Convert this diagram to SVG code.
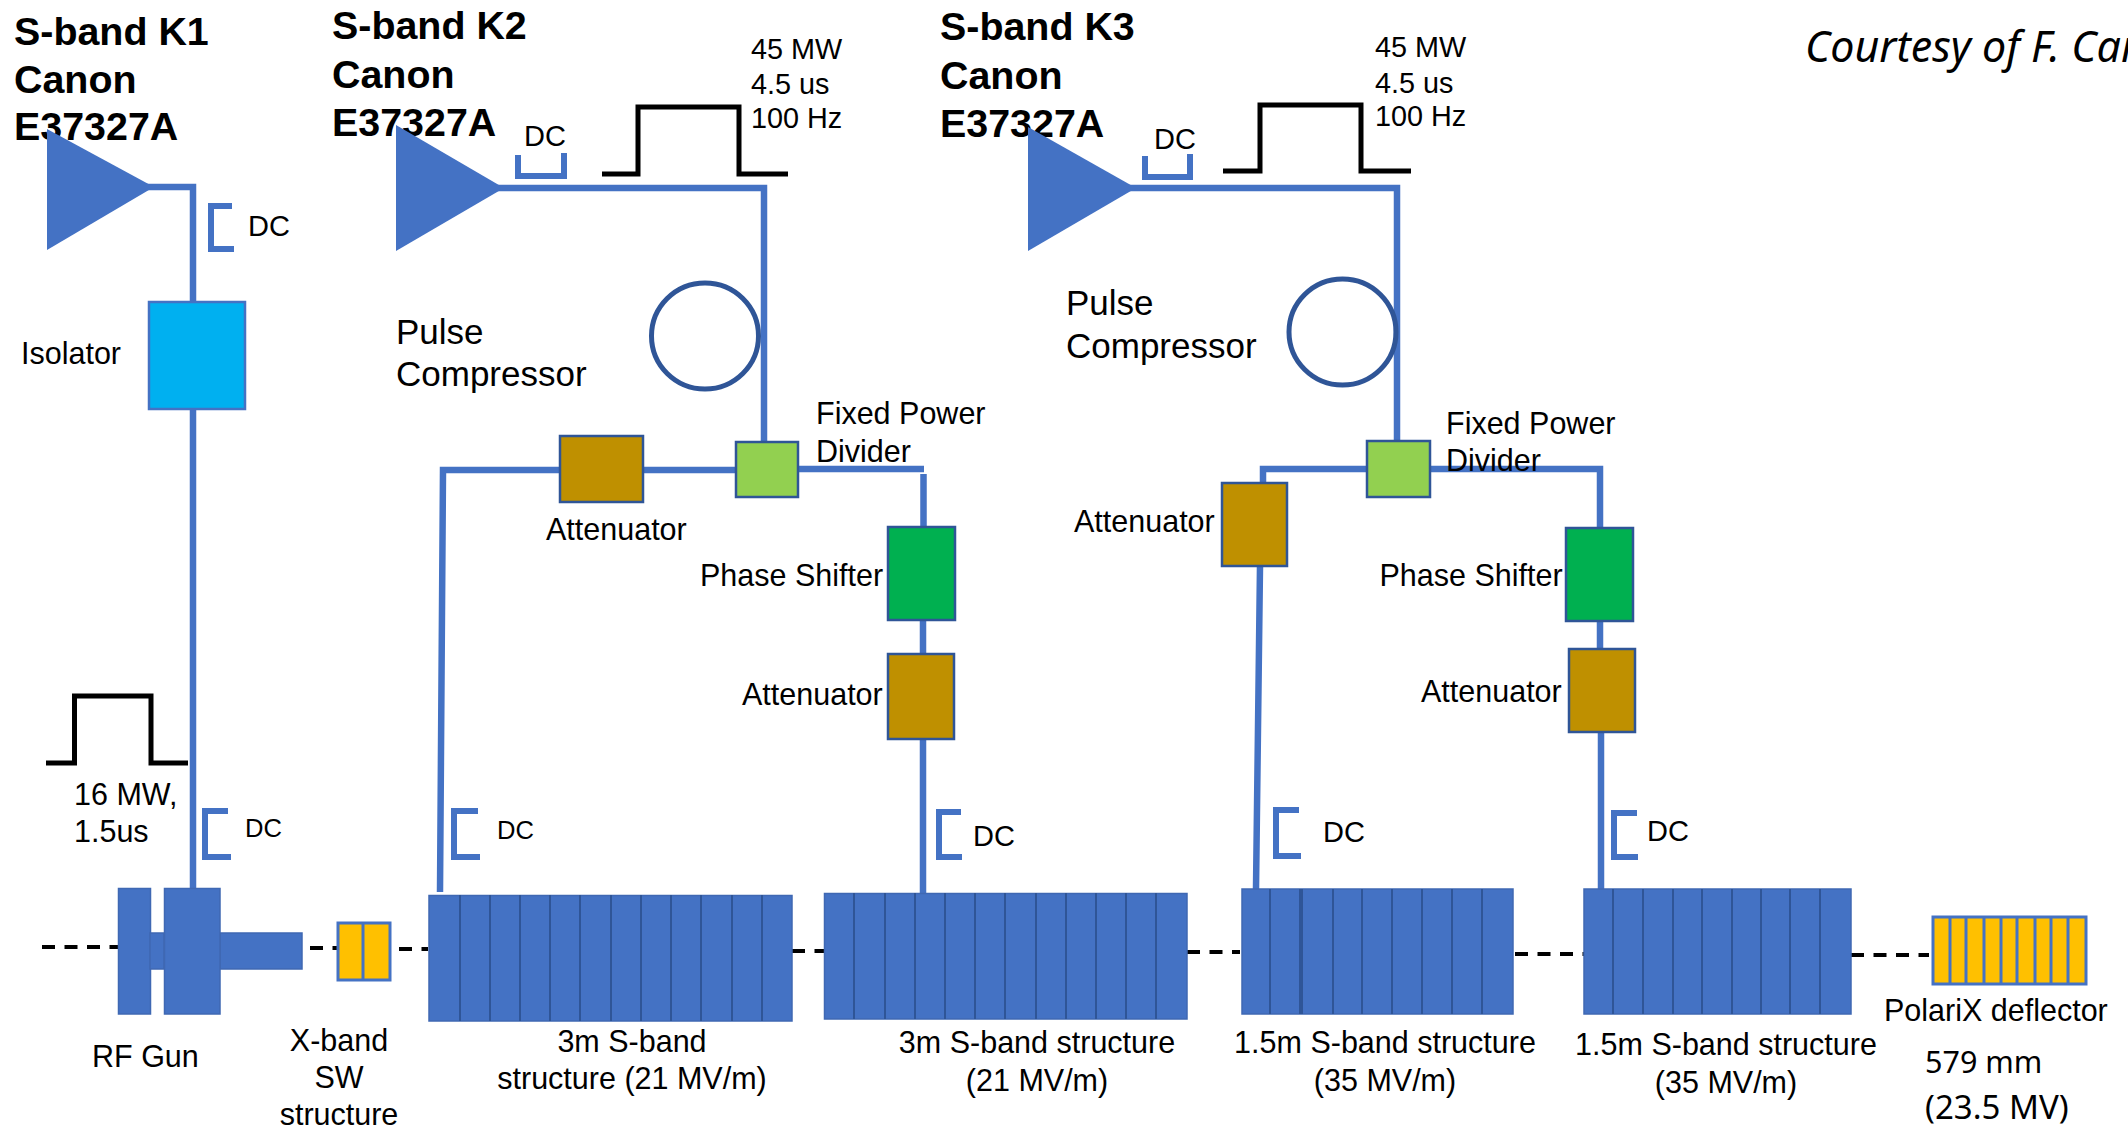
<svg xmlns="http://www.w3.org/2000/svg" width="2128" height="1128" viewBox="0 0 2128 1128">
<style>
text{font-family:"Liberation Sans",Arial,sans-serif;fill:#000;font-size:30.5px}
.t{font-weight:bold;font-size:39.4px}
.p{font-size:35px}
.s{font-size:28.8px}
.dl{font-size:29px}
.ds{font-size:25.6px}
.m{text-anchor:middle}
.c{font-family:"Noto Sans",sans-serif;font-size:30.5px}
.c2{font-family:"Noto Sans",sans-serif;font-size:33px}
.i{font-family:"Noto Sans",sans-serif;font-style:italic;font-size:43px}
.w{fill:none;stroke:#4472C4;stroke-width:6.500}
.b{fill:none;stroke:#4472C4;stroke-width:6}
.pulse{fill:none;stroke:#000;stroke-width:5}
.dash{fill:none;stroke:#000;stroke-width:4;stroke-dasharray:13 9.500}
.tri{fill:#4472C4}
.ac{fill:#4472C4;stroke:#3F68B3;stroke-width:1.500}
.y{fill:#FFC000;stroke:#4472C4;stroke-width:3}
.cell{stroke:#2F5597;stroke-width:2;fill:none}
.ycell{stroke:#4472C4;stroke-width:3;fill:none}
.at{fill:#BF9000;stroke:#2F5597;stroke-width:2.500}
.fd{fill:#92D050;stroke:#2F5597;stroke-width:2.500}
.ps{fill:#00B050;stroke:#2F5597;stroke-width:2.500}
.iso{fill:#00B0F0;stroke:#4472C4;stroke-width:2.500}
.pc{fill:none;stroke:#2F5597;stroke-width:5}
</style>
<g id="connectors">
<path class="w" d="M146 187H193V888"/>
<path class="w" d="M496 188H764V442"/>
<path class="w" d="M736 470H443L440 892"/>
<path class="w" d="M798 469H924"/>
<path class="w" d="M923.500 474V527M923 620V654M923 739V893"/>
<path class="w" d="M1128 188H1397V441"/>
<path class="w" d="M1367 469H1263V483M1260 566L1256 889"/>
<path class="w" d="M1430 469H1600V528M1600 621V649M1601 732V889"/>
<path class="dash" d="M42 947H118"/>
<path class="dash" d="M310 948H338"/>
<path class="dash" d="M399 949H428"/>
<path class="dash" d="M792 951H824"/>
<path class="dash" d="M1187 952H1240"/>
<path class="dash" d="M1515 954H1584"/>
<path class="dash" d="M1851 955H1929"/>
</g>
<g id="k1-label"><text class="t" x="14" y="45">S-band K1</text><text class="t" x="14" y="93">Canon</text><text class="t" x="14" y="140">E37327A</text></g>
<g id="k2-label"><text class="t" x="332" y="39">S-band K2</text><text class="t" x="332" y="87.500">Canon</text><text class="t" x="332" y="136">E37327A</text></g>
<g id="k3-label"><text class="t" x="940" y="40">S-band K3</text><text class="t" x="940" y="88.500">Canon</text><text class="t" x="940" y="136.500">E37327A</text></g>
<text class="i" x="1805" y="62">Courtesy of F. Car</text>
<g id="k1"><polygon class="tri" points="47,129 47,250 154,187"/></g>
<g id="k2"><polygon class="tri" points="396,125 396,251 504,188"/></g>
<g id="k3"><polygon class="tri" points="1028,127 1028,251 1136,188"/></g>
<g id="dc-k1"><path class="b" d="M232 206H211V249H234"/><text class="dl" x="248" y="236">DC</text></g>
<g id="dc-k2"><path class="b" d="M518 155V176H564V153"/><text class="dl" x="524" y="146">DC</text></g>
<g id="dc-k3"><path class="b" d="M1145 156V177H1190V154"/><text class="dl" x="1154" y="149">DC</text></g>
<g id="dc-gun"><path class="b" d="M228 811H205V857H231"/><text class="ds" x="245" y="837">DC</text></g>
<g id="dc-s1"><path class="b" d="M478 811H454V857H480"/><text class="ds" x="497" y="839">DC</text></g>
<g id="dc-s2"><path class="b" d="M961 812H939V857H962"/><text class="dl" x="973" y="846">DC</text></g>
<g id="dc-s3"><path class="b" d="M1299 810H1276V856H1301"/><text class="dl" x="1323" y="842">DC</text></g>
<g id="dc-s4"><path class="b" d="M1637 813H1614V857H1638"/><text class="dl" x="1647" y="841">DC</text></g>
<g id="isolator"><rect class="iso" x="149" y="302" width="96" height="107"/><text x="21" y="363.500">Isolator</text></g>
<g id="pulse-k1"><path class="pulse" d="M46 763H74.500V696H151V763H188"/><text x="74" y="805">16 MW,</text><text x="74" y="842">1.5us</text></g>
<g id="pulse-k2"><path class="pulse" d="M602 174H638V107H739V174H788"/><text class="s" x="751" y="59">45 MW</text><text class="s" x="751" y="93.500">4.5 us</text><text class="s" x="751" y="128">100 Hz</text></g>
<g id="pulse-k3"><path class="pulse" d="M1223 171H1260V105H1361V171H1411"/><text class="s" x="1375" y="57">45 MW</text><text class="s" x="1375" y="92.500">4.5 us</text><text class="s" x="1375" y="126">100 Hz</text></g>
<g id="compressor-k2"><ellipse class="pc" cx="705" cy="336" rx="53.500" ry="53"/><text class="p" x="396" y="344">Pulse</text><text class="p" x="396" y="386">Compressor</text></g>
<g id="compressor-k3"><ellipse class="pc" cx="1342.500" cy="332" rx="53.500" ry="53"/><text class="p" x="1066" y="315">Pulse</text><text class="p" x="1066" y="358">Compressor</text></g>
<g id="divider-k2"><rect class="fd" x="736" y="442" width="62" height="55"/><text x="816" y="424">Fixed Power</text><text x="816" y="462">Divider</text></g>
<g id="divider-k3"><rect class="fd" x="1367" y="441" width="63" height="56"/><text x="1446" y="434">Fixed Power</text><text x="1446" y="471">Divider</text></g>
<g id="att-k2-l"><rect class="at" x="560" y="436" width="83" height="66"/><text x="546" y="540">Attenuator</text></g>
<g id="shifter-k2"><rect class="ps" x="888" y="527" width="67" height="93"/><text x="700" y="585.500">Phase Shifter</text></g>
<g id="att-k2-r"><rect class="at" x="888" y="654" width="66" height="85"/><text x="742" y="705">Attenuator</text></g>
<g id="att-k3-l"><rect class="at" x="1222" y="483" width="65" height="83"/><text x="1074" y="532">Attenuator</text></g>
<g id="shifter-k3"><rect class="ps" x="1566" y="528" width="67" height="93"/><text x="1379.500" y="586">Phase Shifter</text></g>
<g id="att-k3-r"><rect class="at" x="1569" y="649" width="66" height="83"/><text x="1421" y="702">Attenuator</text></g>
<g id="rf-gun"><rect class="ac" x="118.500" y="888.500" width="32" height="125.500"/><rect class="ac" x="150" y="933" width="14" height="36"/><rect class="ac" x="220" y="933" width="82" height="36"/><rect class="ac" x="164.500" y="888.500" width="55.500" height="125.500"/><text x="92" y="1067">RF Gun</text></g>
<g id="x-band"><rect class="y" x="338" y="923" width="52" height="57"/><path class="ycell" d="M363 923V980"/><text class="m" x="339" y="1051">X-band</text><text class="m" x="339" y="1088">SW</text><text class="m" x="339" y="1125">structure</text></g>
<g id="s1"><rect class="ac" x="429" y="895.500" width="363" height="125.500"/><path class="cell" d="M460 895V1021M490 895V1021M520 895V1021M550 895V1021M580 895V1021M611 895V1021M641 895V1021M671 895V1021M701 895V1021M732 895V1021M762 895V1021"/><text class="m" x="632" y="1052">3m S-band</text><text class="m" x="632" y="1089">structure (21 MV/m)</text></g>
<g id="s2"><rect class="ac" x="824.500" y="893.500" width="362.500" height="125.500"/><path class="cell" d="M854 893V1019M885 893V1019M915 893V1019M945 893V1019M975 893V1019M1005 893V1019M1036 893V1019M1066 893V1019M1096 893V1019M1126 893V1019M1156 893V1019"/><text class="m" x="1037" y="1052.500">3m S-band structure</text><text class="m" x="1037" y="1090.500">(21 MV/m)</text></g>
<g id="s3"><rect class="ac" x="1242" y="889" width="271" height="125"/><path class="cell" d="M1270 889V1014M1300 889V1014M1302 889V1014M1333 889V1014M1362 889V1014M1392 889V1014M1422 889V1014M1452 889V1014M1482 889V1014"/><text class="m" x="1385" y="1052.500">1.5m S-band structure</text><text class="m" x="1385" y="1090.500">(35 MV/m)</text></g>
<g id="s4"><rect class="ac" x="1584" y="889" width="267" height="125"/><path class="cell" d="M1613 889V1014M1643 889V1014M1673 889V1014M1702 889V1014M1732 889V1014M1761 889V1014M1790 889V1014M1820 889V1014"/><text class="m" x="1726" y="1054.500">1.5m S-band structure</text><text class="m" x="1726" y="1092.500">(35 MV/m)</text></g>
<g id="polarix"><rect class="y" x="1933" y="917" width="153" height="67"/><path class="ycell" d="M1950 917V984M1966 917V984M1984 917V984M2001 917V984M2017 917V984M2035 917V984M2051 917V984M2068 917V984"/><text x="1884" y="1021">PolariX deflector</text><text class="c" x="1925" y="1073">579 mm</text><text class="c2" x="1925" y="1119">(23.5 MV)</text></g>
</svg>
